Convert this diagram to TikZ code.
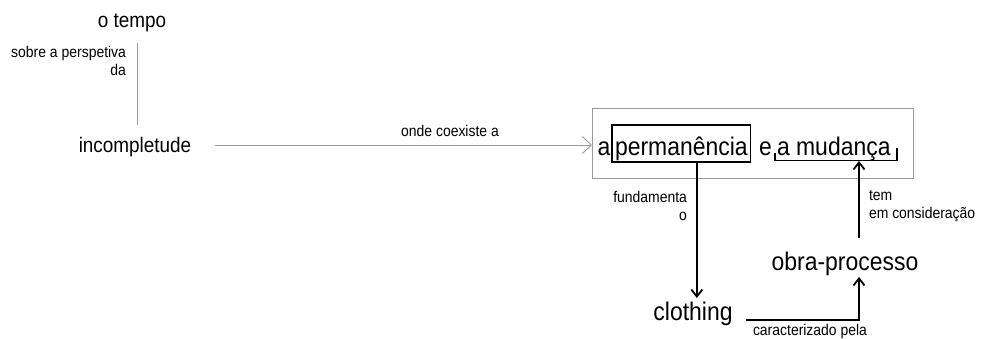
\documentclass[tikz,border=0pt]{standalone}
\usepackage{fontspec}
\setmainfont{Liberation Sans}[FakeStretch=0.9]
\usetikzlibrary{arrows.meta}
\definecolor{linegray}{HTML}{9A9A9A}
\begin{document}
\begin{tikzpicture}[x=1pt,y=-1pt,
  every node/.style={inner sep=0pt, outer sep=0pt},
  txtmid/.style={font=\fontsize{21}{24}\selectfont, anchor=base},
  txtbig/.style={font=\fontsize{25.5}{29}\selectfont, anchor=base},
  lbl/.style={font=\fontsize{15.5}{18}\selectfont},
  grayline/.style={draw=linegray, line width=0.9pt},
  blackline/.style={draw=black, line width=1.8pt},
  grayarrow/.style={grayline, -{Straight Barb[length=9pt,width=17pt,line width=0.9pt]}},
  blackarrow/.style={blackline, -{Straight Barb[length=7pt,width=11pt,line width=1.8pt]}},
  wordbox/.style={draw=black, line width=1.5pt, inner xsep=3pt, inner ysep=3pt,
    text height=27pt, text depth=4pt}
]
\useasboundingbox (0,0) rectangle (982,338);

% top-left: o tempo / incompletude
\node[txtmid] (tempo) at (132,27) {o tempo};
\node[txtmid] (incomp) at (135,152) {incompletude};
\coordinate (tline) at (137,43);
\draw[grayline] (tline) -- (tline |- 0,125);
\node[lbl, align=right, anchor=north east] (sobre) at (126,46) {sobre a perspetiva\\da};

% framed phrase
\node[draw=linegray, line width=0.9pt, minimum width=321pt, minimum height=70pt] (frame) at (752.5,143) {};
\node[txtbig, anchor=base west] (a1) at (597.5,155) {a};
\node[txtbig, wordbox, anchor=base west] (perm) at (612,155) {permanência};
\node[txtbig, anchor=base west] (e1) at (759,155) {e};
\node[txtbig, anchor=base west] (mud) at (777,155) {a mudança};
\draw[blackline, line width=1.5pt] (775,153) -- (775,160.5) -- (897,160.5) -- (897,148);
\coordinate (brk) at (859,161);

% connector into the frame
\draw[grayarrow] ([xshift=24pt]incomp.east |- 0,145) -- (frame.west |- 0,145);
\node[lbl, anchor=base] (onde) at (450,136) {onde coexiste a};

% lower part
\node[txtbig] (cloth) at (693,320) {clothing};
\node[txtbig] (obra) at (845,270) {obra-processo};

\draw[blackarrow] ([xshift=15.5pt]perm.south) -- ([xshift=15.5pt]perm.south |- 0,298);
\node[lbl, align=right, anchor=north east] (fund) at (687,191) {fundamenta\\o};

\draw[blackarrow] ([xshift=13pt]cloth.base east) -- (859,320) -- (859,277);
\node[lbl, anchor=base] (carac) at (810,335.5) {caracterizado pela};

\draw[blackarrow] (859,238) -- (brk);
\node[lbl, align=left, anchor=north west] (tem) at (869,190) {tem\\em consideração};
\end{tikzpicture}
\end{document}
